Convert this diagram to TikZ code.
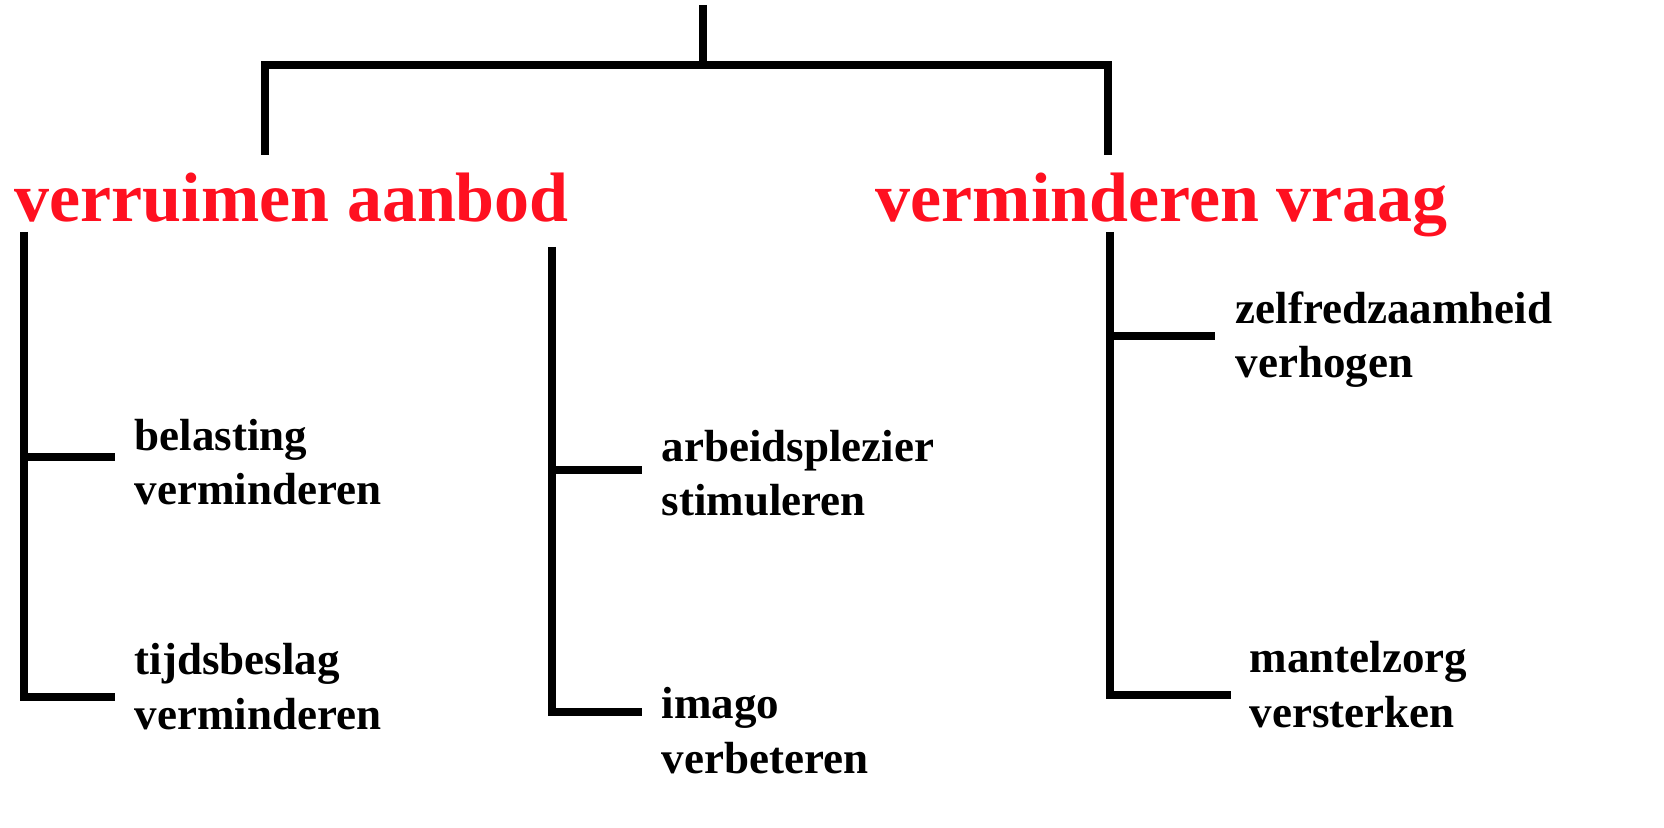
\documentclass[tikz,border=0pt]{standalone}
\usepackage{fontspec}
\setmainfont{Liberation Serif}
\definecolor{headred}{RGB}{255,16,32}
\tikzset{
    head/.style={anchor=base west, inner sep=0pt, text=headred,
                 font=\fontsize{19.9}{24}\selectfont\bfseries},
    leaf/.style={anchor=base west, inner sep=0pt, align=left,
                 font=\fontsize{12.8}{15.6}\selectfont\bfseries},
    branch/.style={line width=0.08cm, line join=miter}
}
\begin{document}
\begin{tikzpicture}[x=0.01cm, y=-0.01cm]
    \useasboundingbox (0, 0) rectangle (1664, 828);
    \draw (14, 222) node (aanbod) [head] {verruimen aanbod}
          (875, 222) node (vraag) [head] {verminderen vraag};
    % base of a two-line node is its last line
    \draw (134, 505) node (belasting) [leaf] {belasting\\verminderen}
          (134, 729) node (tijd) [leaf] {tijdsbeslag\\verminderen}
          (661, 516) node (plezier) [leaf] {arbeidsplezier\\stimuleren}
          (661, 773) node (imago) [leaf] {imago\\verbeteren}
          (1235, 378) node (zelf) [leaf] {zelfredzaamheid\\verhogen}
          (1249, 727) node (mantel) [leaf] {mantelzorg\\versterken};
    \coordinate (root) at (703, 5);
    \coordinate (rootj) at (703, 65);
    \coordinate (aanbodtop) at (265, 155);
    \coordinate (vraagtop) at (1108, 155);
    \coordinate (aanbodl) at (24, 232);
    \coordinate (aanbodr) at (552, 247);
    \coordinate (vraagl) at (1110, 232);
    \coordinate (belastingend) at (115, 457);
    \coordinate (tijdend) at (115, 697);
    \coordinate (plezierend) at (642, 470);
    \coordinate (imagoend) at (642, 712);
    \coordinate (zelfend) at (1215, 336);
    \coordinate (mantelend) at (1231, 695);
    \draw[branch] (root) -- (rootj)
                  (aanbodtop) |- (rootj) -| (vraagtop);
    \draw[branch] (aanbodl) |- (belastingend)
                  (aanbodl) |- (tijdend)
                  (aanbodr) |- (plezierend)
                  (aanbodr) |- (imagoend)
                  (vraagl) |- (zelfend)
                  (vraagl) |- (mantelend);
\end{tikzpicture}
\end{document}
